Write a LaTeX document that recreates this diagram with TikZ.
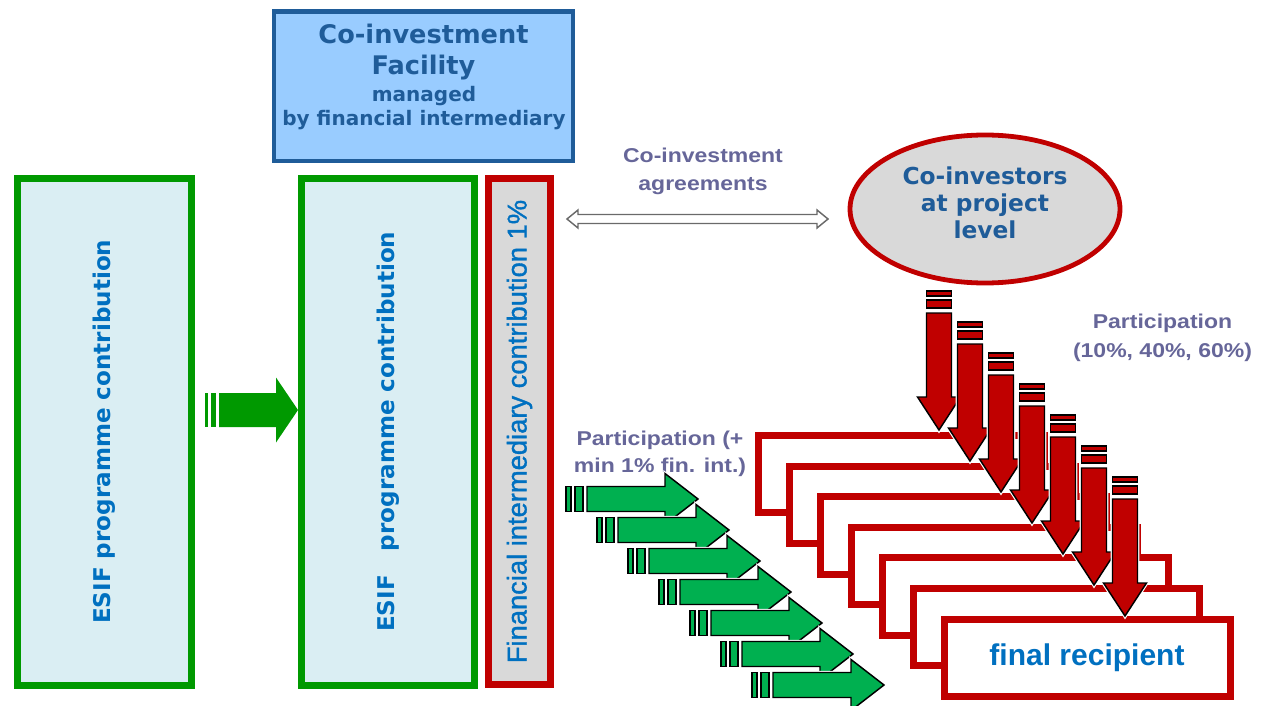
\documentclass[tikz,border=0pt]{standalone}
\usepackage{fontspec}
\usepackage{graphicx}
\usetikzlibrary{shapes.geometric,calc}
\newfontfamily\verd{DejaVu Sans}
\newfontfamily\arialx[FakeStretch=1.15]{Liberation Sans}
\newfontfamily\arialn{Liberation Sans}
\newfontfamily\arialm[FakeBold=1.2]{Liberation Sans}
\definecolor{esif}{HTML}{0070C0}
\definecolor{dblue}{HTML}{1F5C99}
\definecolor{purp}{HTML}{666699}
\definecolor{bgreen}{HTML}{009900}
\definecolor{agreen}{HTML}{00B050}
\definecolor{rred}{HTML}{C00000}
\definecolor{lcyan}{HTML}{DAEEF3}
\definecolor{lgray}{HTML}{D9D9D9}
\definecolor{lblue}{HTML}{99CCFF}
\definecolor{dagray}{HTML}{6A6A6A}
\begin{document}
\begin{tikzpicture}[x=0.75pt,y=-0.75pt,
  greenbox/.style={draw=bgreen, fill=lcyan, line width=5.25pt, minimum height=379.9pt, inner sep=0pt, text=esif, font={\verd\bfseries\fontsize{17.3}{20}\selectfont}},
  redbox/.style={draw=rred, fill=lgray, line width=5.25pt, inner sep=0pt},
  recip/.style={draw=rred, fill=white, line width=5.25pt, minimum width=214.5pt, minimum height=58.1pt, inner sep=0pt},
  purptext/.style={text=purp, align=center, inner sep=0pt},
  rarr/.style={fill=rred, draw=black, line width=1.1pt, preaction={draw=white, line width=2.8pt}},
  garr/.style={fill=agreen, draw=black, line width=1.1pt, preaction={draw=white, line width=2.6pt}},
  bigarr/.style={fill=bgreen, draw=none},
  redarrow/.pic={
    \path[rarr] (-12.5,-139) rectangle (12.5,-134);
    \path[rarr] (-12.5,-130) rectangle (12.5,-122);
    \path[rarr] (-12.5,-117) -- (12.5,-117) -- (12.5,-33) -- (21.5,-33) -- (0,0) -- (-21.5,-33) -- (-12.5,-33) -- cycle;
  },
  greenarrow/.pic={
    \path[garr] (-132,-12.5) rectangle (-127,12.5);
    \path[garr] (-123,-12.5) rectangle (-115,12.5);
    \path[garr] (-111,-12.5) -- (-33,-12.5) -- (-33,-25.5) -- (0,0) -- (-33,25.5) -- (-33,12.5) -- (-111,12.5) -- cycle;
  }
]
\useasboundingbox (0,0) rectangle (1264,706);

% left boxes
\node[greenbox, minimum width=130.5pt] (b1) at (104,431.75) {\rotatebox{90}{ESIF programme contribution}};
\node[greenbox, minimum width=130.1pt] (b2) at (387.75,431.75) {\rotatebox{90}{ESIF\ \ \ programme contribution}};
\node[redbox, minimum width=46.5pt, minimum height=379.5pt, text=esif, font={\arialm\fontsize{20.5}{22}\selectfont}] (fi) at (519.5,431.5) {\rotatebox{90}{Financial intermediary contribution 1\%}};

% big green arrow
\coordinate (ga) at (298,410);
\begin{scope}[shift={(ga)}]
  \path[bigarr] (-93,-17) rectangle (-90,17);
  \path[bigarr] (-87,-17) rectangle (-82,17);
  \path[bigarr] (-79,-17) -- (-22,-17) -- (-22,-32.5) -- (0,0) -- (-22,32.5) -- (-22,17) -- (-79,17) -- cycle;
\end{scope}

% top box
\node[draw=dblue, fill=lblue, line width=3.4pt, minimum width=224.25pt, minimum height=112.1pt] (fcf) at (423.5,86.25) {};
\node[text=dblue, align=center, inner sep=0pt, font={\verd\bfseries\fontsize{19.2}{23.25}\selectfont}] (ft1) at (423.5,52.5) {Co-investment\\Facility};
\node[text=dblue, align=center, inner sep=0pt, font={\verd\bfseries\fontsize{15}{18}\selectfont}] (ft2) at (424,108) {managed\\by financial intermediary};

% co-investment agreements
\node[purptext, font={\arialx\bfseries\fontsize{15}{21}\selectfont}] (ca) at (703,171) {Co-investment\\agreements};
\coordinate (dal) at (567,219);
\coordinate (dar) at (828,219);
\draw[draw=dagray, fill=white, line width=1.1pt, line join=miter]
  (dal) -- ($(dal)+(11,-9)$) -- ($(dal)+(11,-4.5)$) -- ($(dar)+(-11,-4.5)$) -- ($(dar)+(-11,-9)$) -- (dar)
  -- ($(dar)+(-11,9)$) -- ($(dar)+(-11,4.5)$) -- ($(dal)+(11,4.5)$) -- ($(dal)+(11,9)$) -- cycle;

% ellipse
\node[ellipse, draw=rred, fill=lgray, line width=3.6pt, minimum width=202.5pt, minimum height=111pt, inner sep=0pt] (coi) at (985,209) {};
\node[text=dblue, align=center, inner sep=0pt, font={\verd\bfseries\fontsize{17.5}{20.25}\selectfont}] (coit) at (985,203) {Co-investors\\at project\\level};

% participation labels
\node[purptext, font={\arialx\bfseries\fontsize{15}{21.75}\selectfont}] (p1) at (1162.5,337.5) {Participation\\(10\%, 40\%, 60\%)};
\node[purptext, font={\arialx\bfseries\fontsize{15}{20.25}\selectfont}] (p2) at (660,453.5) {Participation (+\\min 1\% fin. int.)};

% stacked final recipient boxes
\foreach \i in {0,...,5} {
  \node[recip] (r\i) at ({901+31*\i},{474.25+30.6*\i}) {};
}
\node[recip, text=esif, font={\arialn\bfseries\fontsize{22.5}{26}\selectfont}] (r6) at (1087,658) {final recipient};

% red arrows
\foreach \i in {0,...,6} {
  \coordinate (rt\i) at ({939+31*\i},{430+31*\i});
  \pic at (rt\i) {redarrow};
}

% green arrows
\foreach \i in {0,...,6} {
  \coordinate (gt\i) at ({698+31*\i},{499+31*\i});
  \pic at (gt\i) {greenarrow};
}
\end{tikzpicture}
\end{document}
